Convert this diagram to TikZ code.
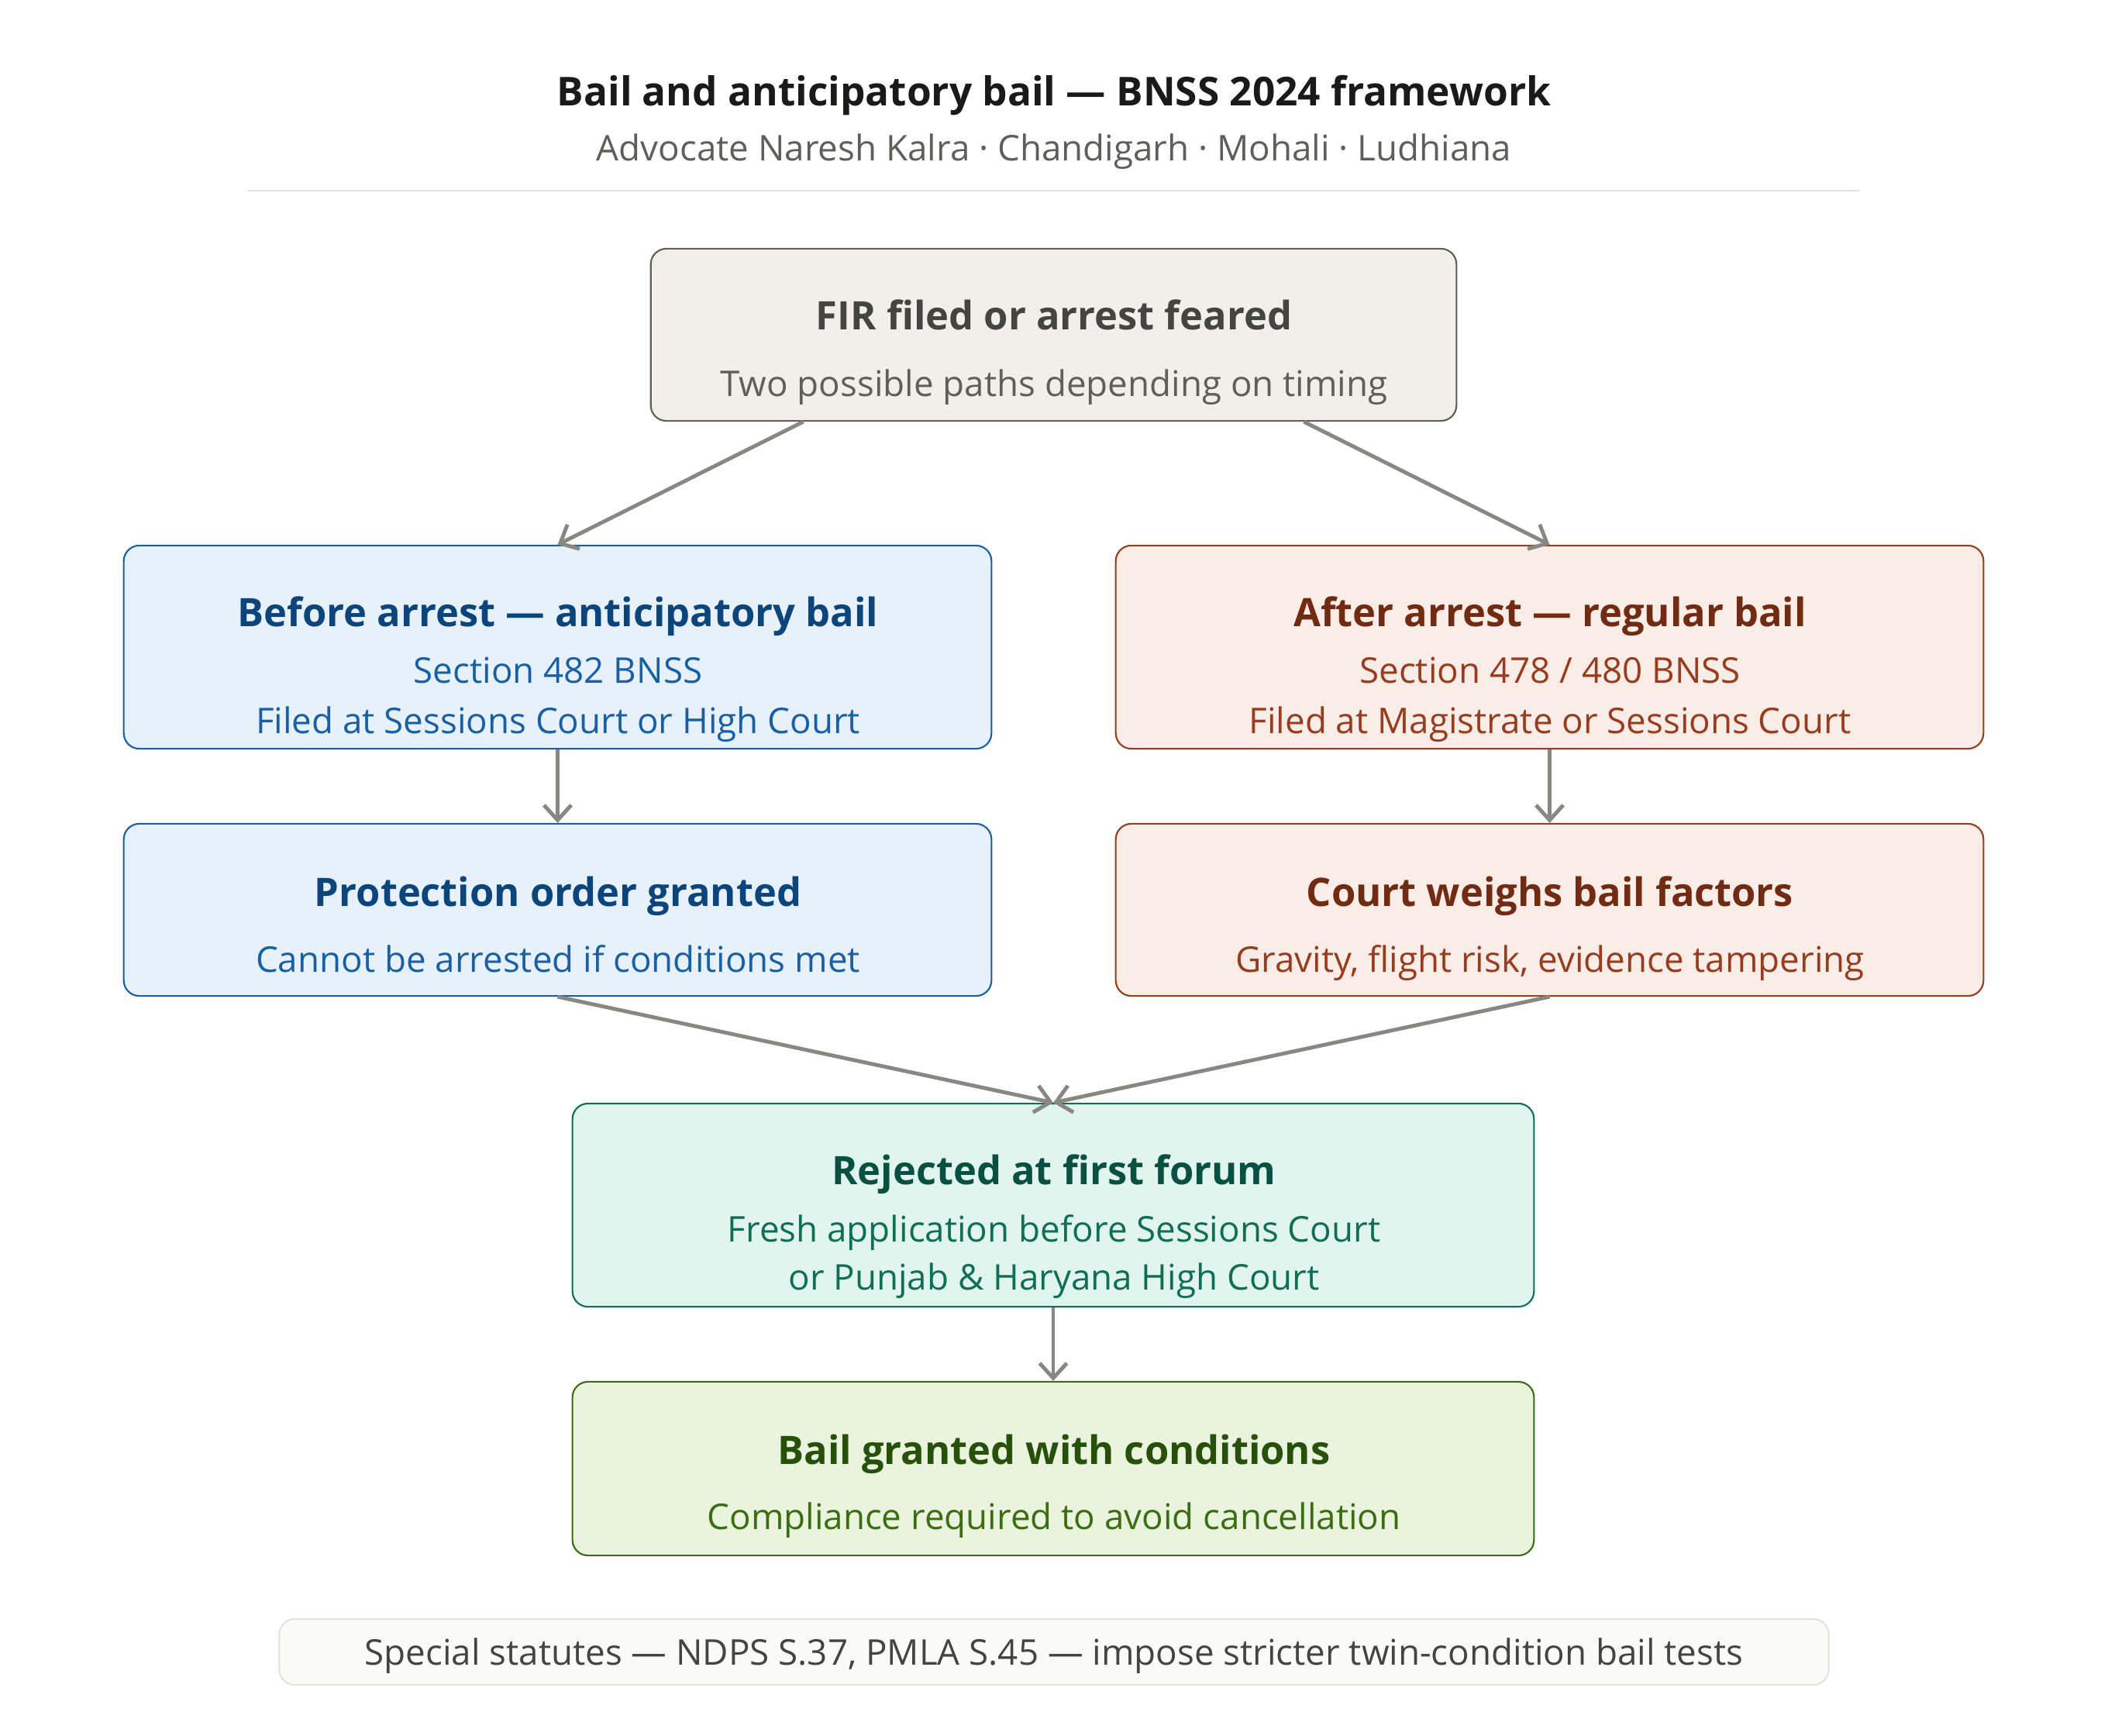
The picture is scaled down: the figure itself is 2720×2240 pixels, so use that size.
\documentclass[tikz,border=0pt]{standalone}
\usepackage{fontspec}
\setmainfont{Open Sans}
\usetikzlibrary{arrows.meta,calc}

\definecolor{inkdark}{HTML}{1A1A18}
\definecolor{inkgray}{HTML}{5F5E5A}
\definecolor{rulegray}{HTML}{E3E2DE}
\definecolor{arrowgray}{HTML}{888780}
\definecolor{grayfill}{HTML}{F1EFE8}
\definecolor{grayline}{HTML}{5F5E5A}
\definecolor{grayhead}{HTML}{444441}
\definecolor{bluefill}{HTML}{E6F1FB}
\definecolor{blueline}{HTML}{185FA5}
\definecolor{bluehead}{HTML}{0C447C}
\definecolor{redfill}{HTML}{FAECE7}
\definecolor{redline}{HTML}{993C1D}
\definecolor{redhead}{HTML}{712B13}
\definecolor{tealfill}{HTML}{E1F5EE}
\definecolor{tealline}{HTML}{0F6E56}
\definecolor{tealhead}{HTML}{085041}
\definecolor{greenfill}{HTML}{EAF3DE}
\definecolor{greenline}{HTML}{3B6D11}
\definecolor{greenhead}{HTML}{27500A}
\definecolor{notefill}{HTML}{FAFAF8}
\definecolor{noteline}{HTML}{E3E2DE}

\begin{document}
\begin{tikzpicture}[x=0.01cm,y=-0.01cm,
	box/.style={draw,rounded corners=0.2cm,line width=0.6pt,inner sep=0pt},
	head/.style={anchor=mid,font=\bfseries\fontsize{14.4}{17}\selectfont},
	sub/.style={anchor=mid,font=\fontsize{13}{15}\selectfont},
	flow/.style={draw=arrowgray,line width=1.4pt,-{Straight Barb[length=5.5pt,width=10pt]}}]
	\useasboundingbox (0,0) rectangle (2720,2240);
	% heading
	\node[anchor=mid,text=inkdark,font=\bfseries\fontsize{14.6}{17}\selectfont] (title) at (1360,127) {Bail and anticipatory bail — BNSS 2024 framework};
	\node[anchor=mid,text=inkgray,font=\fontsize{13}{15}\selectfont] (byline) at (1360,198) {Advocate Naresh Kalra · Chandigarh · Mohali · Ludhiana};
	\draw[rulegray,line width=0.6pt] (319,246) -- (2399,246);
	% boxes
	\node[box,fill=grayfill,draw=grayline,minimum width=10.39cm,minimum height=2.22cm] (fir) at (1359.5,432) {};
	\node[head,text=grayhead] (fir-t) at (1360,416) {FIR filed or arrest feared};
	\node[sub,text=grayline] (fir-s) at (1360,502) {Two possible paths depending on timing};

	\node[box,fill=bluefill,draw=blueline,minimum width=11.19cm,minimum height=2.62cm] (before) at (719.5,835) {};
	\node[head,text=bluehead] (before-t) at (720,799) {Before arrest — anticipatory bail};
	\node[sub,text=blueline] (before-s1) at (720,872) {Section 482 BNSS};
	\node[sub,text=blueline] (before-s2) at (720,937) {Filed at Sessions Court or High Court};

	\node[box,fill=redfill,draw=redline,minimum width=11.19cm,minimum height=2.62cm] (after) at (1999.5,835) {};
	\node[head,text=redhead] (after-t) at (2000,799) {After arrest — regular bail};
	\node[sub,text=redline] (after-s1) at (2000,872) {Section 478 / 480 BNSS};
	\node[sub,text=redline] (after-s2) at (2000,937) {Filed at Magistrate or Sessions Court};

	\node[box,fill=bluefill,draw=blueline,minimum width=11.19cm,minimum height=2.22cm] (protect) at (719.5,1174) {};
	\node[head,text=bluehead] (protect-t) at (720,1160) {Protection order granted};
	\node[sub,text=blueline] (protect-s) at (720,1245) {Cannot be arrested if conditions met};

	\node[box,fill=redfill,draw=redline,minimum width=11.19cm,minimum height=2.22cm] (weigh) at (1999.5,1174) {};
	\node[head,text=redhead] (weigh-t) at (2000,1160) {Court weighs bail factors};
	\node[sub,text=redline] (weigh-s) at (2000,1245) {Gravity, flight risk, evidence tampering};

	\node[box,fill=tealfill,draw=tealline,minimum width=12.4cm,minimum height=2.62cm] (reject) at (1359,1555) {};
	\node[head,text=tealhead] (reject-t) at (1360,1519) {Rejected at first forum};
	\node[sub,text=tealline] (reject-s1) at (1360,1593) {Fresh application before Sessions Court};
	\node[sub,text=tealline] (reject-s2) at (1360,1655) {or Punjab \& Haryana High Court};

	\node[box,fill=greenfill,draw=greenline,minimum width=12.4cm,minimum height=2.24cm] (granted) at (1359,1895) {};
	\node[head,text=greenhead] (granted-t) at (1360,1880) {Bail granted with conditions};
	\node[sub,text=greenline] (granted-s) at (1360,1964) {Compliance required to avoid cancellation};

	\node[box,fill=notefill,draw=noteline,minimum width=19.98cm,minimum height=0.85cm] (note) at (1360,2131.5) {};
	\node[sub,text=grayhead] (note-t) at (1360,2139) {Special statutes — NDPS S.37, PMLA S.45 — impose stricter twin-condition bail tests};
	% connectors
	\coordinate (fir-l) at ($(fir.south west)!0.19!(fir.south east)$);
	\coordinate (fir-r) at ($(fir.south west)!0.81!(fir.south east)$);
	\draw[flow] (fir-l) -- (before.north);
	\draw[flow] (fir-r) -- (after.north);
	\draw[flow] (before.south) -- (protect.north);
	\draw[flow] (after.south) -- (weigh.north);
	\draw[flow] (protect.south) -- (reject.north);
	\draw[flow] (weigh.south) -- (reject.north);
	\draw[flow] (reject.south) -- (granted.north);
\end{tikzpicture}
\end{document}
